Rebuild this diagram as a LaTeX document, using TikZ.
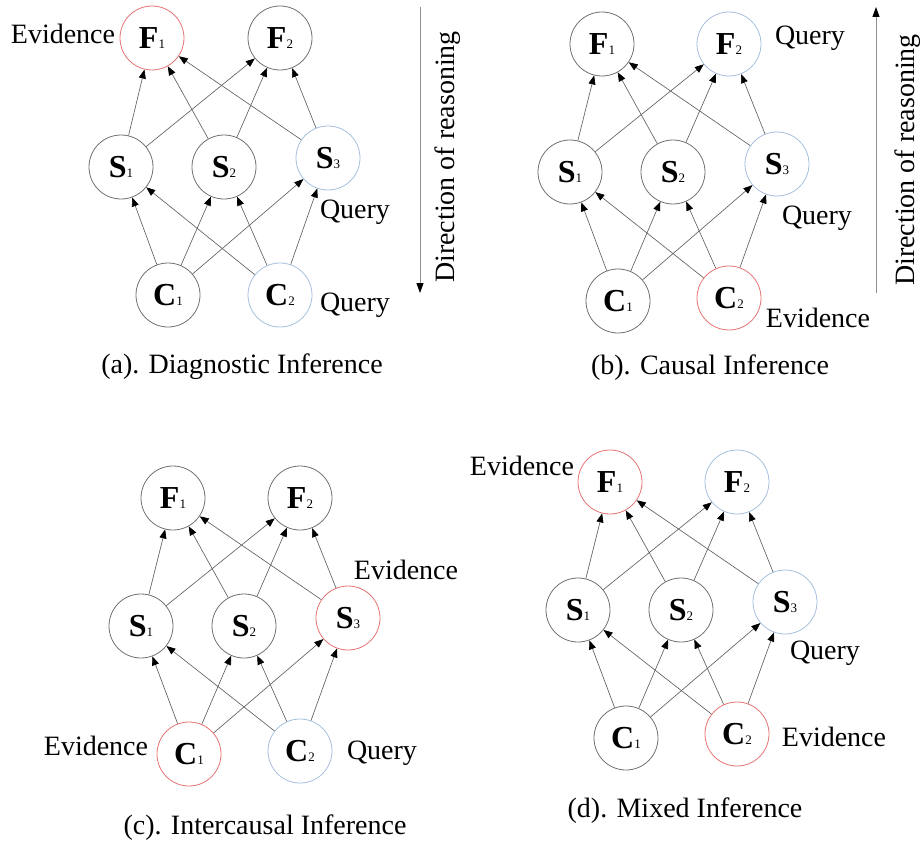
\documentclass[tikz,border=0pt]{standalone}
\usepackage{fontspec}
\setmainfont{Liberation Serif}
\usetikzlibrary{arrows.meta}
\definecolor{nodegray}{HTML}{707070}
\definecolor{evred}{HTML}{E57373}
\definecolor{qblue}{HTML}{A6BFDD}
\definecolor{edgegray}{HTML}{606060}
\definecolor{dirgray}{HTML}{909090}
\tikzset{
  var/.style={circle, draw=nodegray, line width=0.8pt, minimum size=64pt, inner sep=0pt},
  ev/.style={var, draw=evred},
  qu/.style={var, draw=qblue},
  edge/.style={draw=edgegray, line width=0.65pt, -{Triangle[length=9pt,width=7pt,color=black]}},
  lbl/.style={font=\fontsize{28}{32}\selectfont, inner sep=0pt},
  dirarrow/.style={draw=dirgray, line width=0.9pt, -{Triangle[length=10pt,width=7pt,color=black]}},
}
\newcommand\vlab[2]{{\fontsize{32}{32}\selectfont\bfseries #1}{\fontsize{13}{13}\selectfont #2}}
\newcommand\netedges[1]{%
  \foreach \s in {S1,S2,S3}{\foreach \f in {F1,F2}{\draw[edge] (#1\s) -- (#1\f);}}%
  \foreach \c in {C1,C2}{\foreach \s in {S1,S2,S3}{\draw[edge] (#1\c) -- (#1\s);}}%
}
\begin{document}
\begin{tikzpicture}[x=1pt,y=-1pt]
\useasboundingbox (0,0) rectangle (922,843);
% ---------- (a) ----------
\node[ev]  (aF1) at (152,38)  {\vlab F1};
\node[var] (aF2) at (280,38)  {\vlab F2};
\node[var] (aS1) at (121,167) {\vlab S1};
\node[var] (aS2) at (224,167) {\vlab S2};
\node[qu]  (aS3) at (328,158) {\vlab S3};
\node[var] (aC1) at (168,295) {\vlab C1};
\node[qu]  (aC2) at (280,295) {\vlab C2};
\netedges{a}
\node[lbl] (aEv) at (63,34) {Evidence};
\node[lbl] (aQ1) at (355,212) {Query};
\node[lbl] (aQ2) at (355,305) {Query};
\coordinate (aTop) at (420,7);
\coordinate (aBot) at (420,293);
\draw[dirarrow] (aTop) -- (aBot);
\node[lbl, rotate=90] (aDir) at (448,157) {Direction of reasoning};
\node[lbl] (aCap) at (242,367) {(a). Diagnostic Inference};
% ---------- (b) ----------
\node[var] (bF1) at (602,44)  {\vlab F1};
\node[qu]  (bF2) at (729,44)  {\vlab F2};
\node[var] (bS1) at (570,172) {\vlab S1};
\node[var] (bS2) at (673,172) {\vlab S2};
\node[qu]  (bS3) at (777,164) {\vlab S3};
\node[var] (bC1) at (618,301) {\vlab C1};
\node[ev]  (bC2) at (729,298) {\vlab C2};
\netedges{b}
\node[lbl] (bQ1) at (810,38) {Query};
\node[lbl] (bQ2) at (817,218) {Query};
\node[lbl] (bEv) at (818,318) {Evidence};
\coordinate (bBot) at (876,293);
\coordinate (bTop) at (876,7);
\draw[dirarrow] (bBot) -- (bTop);
\node[lbl, rotate=90] (bDir) at (908,160) {Direction of reasoning};
\node[lbl] (bCap) at (710,368) {(b). Causal Inference};
% ---------- (c) ----------
\node[var] (cF1) at (173,498) {\vlab F1};
\node[var] (cF2) at (300,498) {\vlab F2};
\node[var] (cS1) at (141,626) {\vlab S1};
\node[var] (cS2) at (244,626) {\vlab S2};
\node[ev]  (cS3) at (348,618) {\vlab S3};
\node[ev]  (cC1) at (189,754) {\vlab C1};
\node[qu]  (cC2) at (300,751) {\vlab C2};
\netedges{c}
\node[lbl] (cEv1) at (406,570) {Evidence};
\node[lbl] (cEv2) at (96,746) {Evidence};
\node[lbl] (cQ) at (382,753) {Query};
\node[lbl] (cCap) at (265,828) {(c). Intercausal Inference};
% ---------- (d) ----------
\node[ev]  (dF1) at (610,482) {\vlab F1};
\node[qu]  (dF2) at (737,482) {\vlab F2};
\node[var] (dS1) at (578,610) {\vlab S1};
\node[var] (dS2) at (681,610) {\vlab S2};
\node[qu]  (dS3) at (785,602) {\vlab S3};
\node[var] (dC1) at (626,738) {\vlab C1};
\node[ev]  (dC2) at (737,734) {\vlab C2};
\netedges{d}
\node[lbl] (dEv1) at (522,466) {Evidence};
\node[lbl] (dQ) at (825,653) {Query};
\node[lbl] (dEv2) at (834,737) {Evidence};
\node[lbl] (dCap) at (685,811) {(d). Mixed Inference};
\end{tikzpicture}
\end{document}
